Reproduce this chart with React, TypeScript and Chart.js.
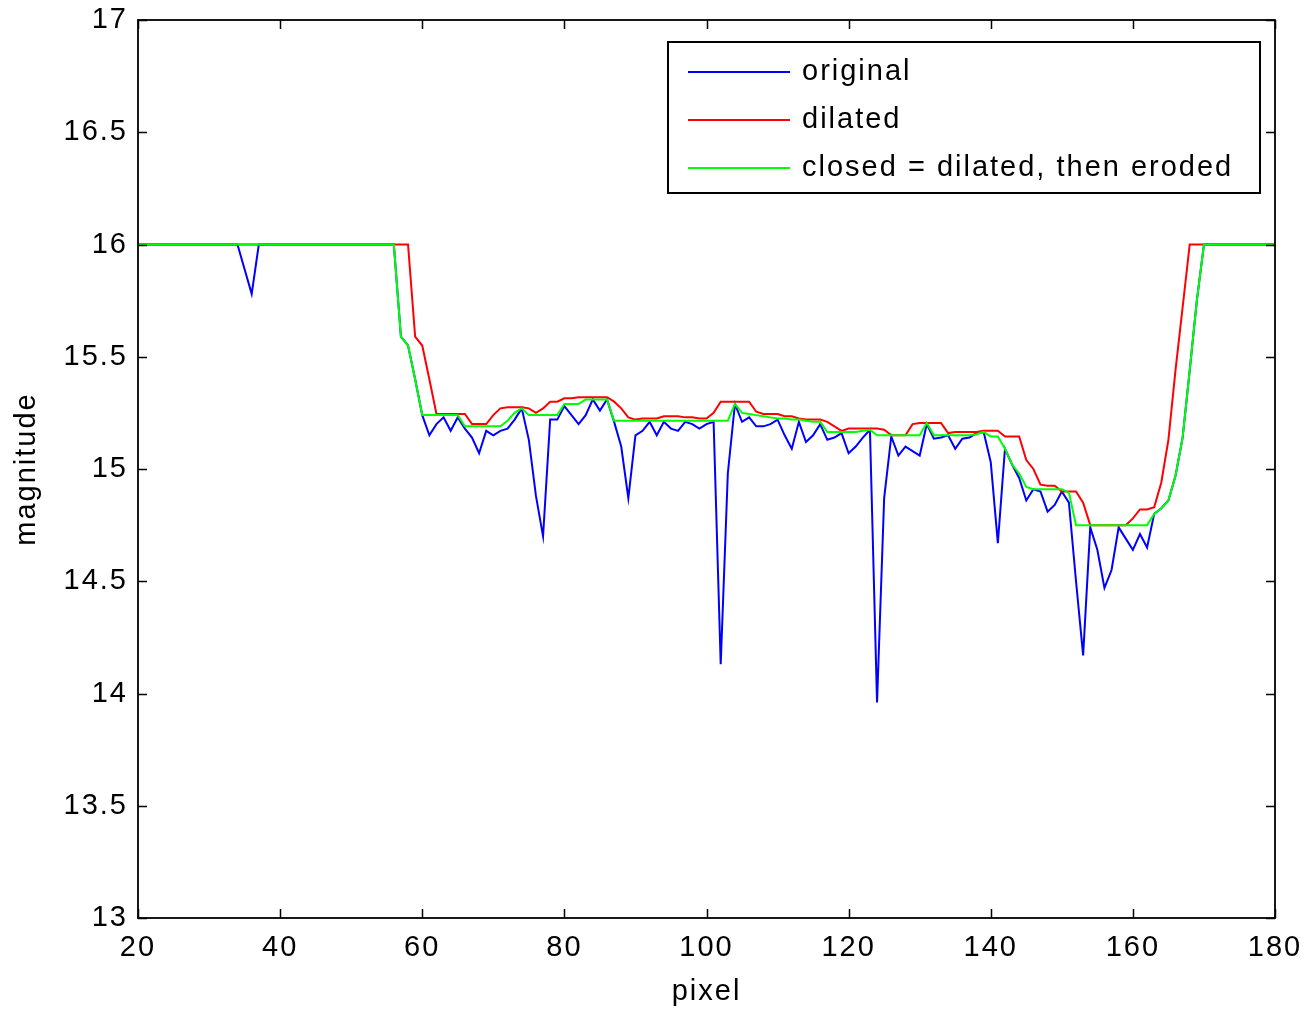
import React, { useEffect, useRef } from "react";
import { Chart, registerables } from "chart.js";

Chart.register(...registerables);

// pixel index (x axis categories)
const PIXELS: number[] = Array.from({ length: 161 }, (_, i) => 20 + i);

// original signal, x = 20..180
const ORIGINAL: number[] = [
  16, 16, 16, 16, 16, 16, 16, 16, 16, 16, // 20-29
  16, 16, 16, 16, 16, 15.89, 15.78, 16, 16, 16, // 30-39
  16, 16, 16, 16, 16, 16, 16, 16, 16, 16, // 40-49
  16, 16, 16, 16, 16, 16, 16, 15.59, 15.55, 15.4, // 50-59
  15.24, 15.15, 15.2, 15.23, 15.17, 15.23, 15.18, 15.14, 15.07, 15.17, // 60-69
  15.15, 15.17, 15.18, 15.22, 15.27, 15.13, 14.88, 14.7, 15.22, 15.22, // 70-79
  15.28, 15.24, 15.2, 15.24, 15.31, 15.26, 15.31, 15.21, 15.1, 14.87, // 80-89
  15.15, 15.17, 15.21, 15.15, 15.21, 15.18, 15.17, 15.21, 15.2, 15.18, // 90-99
  15.2, 15.21, 14.13, 14.98, 15.29, 15.21, 15.23, 15.19, 15.19, 15.2, // 100-109
  15.22, 15.15, 15.09, 15.21, 15.12, 15.15, 15.2, 15.13, 15.14, 15.16, // 110-119
  15.07, 15.1, 15.14, 15.175, 13.96, 14.87, 15.145, 15.06, 15.1, 15.08, // 120-129
  15.06, 15.2, 15.135, 15.14, 15.15, 15.09, 15.135, 15.14, 15.16, 15.165, // 130-139
  15.03, 14.67, 15.09, 15.02, 14.96, 14.86, 14.91, 14.9, 14.81, 14.84, // 140-149
  14.9, 14.85, 14.5, 14.17, 14.74, 14.64, 14.47, 14.55, 14.74, 14.69, // 150-159
  14.64, 14.71, 14.65, 14.8, 14.825, 14.86, 14.97, 15.14, 15.44, 15.75, // 160-169
  16, 16, 16, 16, 16, 16, 16, 16, 16, 16, // 170-179
  16, // 180
];

// dilated signal
const DILATED: number[] = [
  16, 16, 16, 16, 16, 16, 16, 16, 16, 16,
  16, 16, 16, 16, 16, 16, 16, 16, 16, 16,
  16, 16, 16, 16, 16, 16, 16, 16, 16, 16,
  16, 16, 16, 16, 16, 16, 16, 16, 16, 15.59,
  15.55, 15.4, 15.245, 15.245, 15.245, 15.245, 15.245, 15.2, 15.2, 15.2,
  15.24, 15.27, 15.275, 15.275, 15.275, 15.27, 15.25, 15.27, 15.3, 15.3,
  15.315, 15.315, 15.32, 15.32, 15.32, 15.32, 15.32, 15.3, 15.27, 15.23,
  15.22, 15.225, 15.225, 15.225, 15.235, 15.235, 15.235, 15.23, 15.23, 15.225,
  15.225, 15.25, 15.3, 15.3, 15.3, 15.3, 15.3, 15.255, 15.245, 15.245,
  15.245, 15.235, 15.235, 15.225, 15.22, 15.22, 15.22, 15.21, 15.19, 15.17,
  15.18, 15.18, 15.18, 15.18, 15.18, 15.175, 15.15, 15.15, 15.15, 15.2,
  15.205, 15.205, 15.205, 15.205, 15.16, 15.165, 15.165, 15.165, 15.165, 15.17,
  15.17, 15.17, 15.145, 15.145, 15.145, 15.04, 15.0, 14.93, 14.925, 14.925,
  14.9, 14.9, 14.9, 14.85, 14.75, 14.75, 14.75, 14.75, 14.75, 14.75,
  14.78, 14.82, 14.82, 14.83, 14.94, 15.13, 15.44, 15.72, 16, 16,
  16, 16, 16, 16, 16, 16, 16, 16, 16, 16,
  16,
];

// closed = dilated, then eroded
const CLOSED: number[] = [
  16, 16, 16, 16, 16, 16, 16, 16, 16, 16,
  16, 16, 16, 16, 16, 16, 16, 16, 16, 16,
  16, 16, 16, 16, 16, 16, 16, 16, 16, 16,
  16, 16, 16, 16, 16, 16, 16, 15.59, 15.55, 15.4,
  15.24, 15.24, 15.24, 15.24, 15.24, 15.24, 15.19, 15.19, 15.19, 15.19,
  15.19, 15.19, 15.215, 15.25, 15.27, 15.24, 15.24, 15.24, 15.24, 15.24,
  15.29, 15.29, 15.29, 15.31, 15.31, 15.31, 15.31, 15.215, 15.215, 15.215,
  15.215, 15.215, 15.215, 15.215, 15.215, 15.215, 15.215, 15.215, 15.215, 15.215,
  15.215, 15.215, 15.215, 15.215, 15.29, 15.25, 15.245, 15.24, 15.235, 15.23,
  15.225, 15.225, 15.22, 15.22, 15.215, 15.21, 15.21, 15.165, 15.165, 15.165,
  15.165, 15.165, 15.17, 15.175, 15.15, 15.15, 15.15, 15.15, 15.15, 15.15,
  15.15, 15.205, 15.15, 15.15, 15.15, 15.15, 15.15, 15.15, 15.155, 15.165,
  15.145, 15.145, 15.09, 15.02, 14.98, 14.92, 14.91, 14.91, 14.91, 14.91,
  14.91, 14.895, 14.75, 14.75, 14.75, 14.75, 14.75, 14.75, 14.75, 14.75,
  14.75, 14.75, 14.75, 14.8, 14.825, 14.86, 14.97, 15.14, 15.44, 15.75,
  16, 16, 16, 16, 16, 16, 16, 16, 16, 16,
  16,
];

const SERIES_LABELS = ["original", "dilated", "closed = dilated, then eroded"];
const SERIES_COLORS = ["#0000ff", "#ff0000", "#00ff00"];
const X_TICKS = [20, 40, 60, 80, 100, 120, 140, 160, 180];
const Y_TICKS = [13, 13.5, 14, 14.5, 15, 15.5, 16, 16.5, 17];
const X_TITLE = "pixel";
const Y_TITLE = "magnitude";

const FONT_FAMILY = '"Liberation Sans", Arial, Helvetica, sans-serif';
const FONT_SIZE = 29;
const LETTER_SPACING = "2px";

const spacingPlugin = {
  id: "spacing",
  beforeDraw(chart: any) {
    chart.ctx.letterSpacing = LETTER_SPACING;
  },
  afterDraw(chart: any) {
    chart.ctx.letterSpacing = "0px";
  },
};

const framePlugin = {
  id: "frame",
  afterDatasetsDraw(chart: any) {
    const { ctx, chartArea: a, scales } = chart;
    const tl = 9;
    ctx.save();
    ctx.strokeStyle = "#000";
    ctx.lineWidth = 1.5;
    ctx.beginPath();
    for (const v of X_TICKS) {
      const px = Math.round(scales.x.getPixelForValue(v)) + 0.5;
      ctx.moveTo(px, a.bottom);
      ctx.lineTo(px, a.bottom - tl);
      ctx.moveTo(px, a.top);
      ctx.lineTo(px, a.top + tl);
    }
    for (const v of Y_TICKS) {
      const py = Math.round(scales.y.getPixelForValue(v)) + 0.5;
      ctx.moveTo(a.left, py);
      ctx.lineTo(a.left + tl, py);
      ctx.moveTo(a.right, py);
      ctx.lineTo(a.right - tl, py);
    }
    ctx.stroke();
    ctx.lineWidth = 1.8;
    ctx.strokeRect(a.left, a.top, a.right - a.left, a.bottom - a.top);
    ctx.restore();
  },
};

const legendPlugin = {
  id: "matlabLegend",
  afterDraw(chart: any) {
    const { ctx, chartArea: a } = chart;
    const boxLeft = 668;
    const boxTop = 42;
    const boxRight = a.right - 15;
    const boxBottom = 193;
    ctx.save();
    ctx.fillStyle = "#fff";
    ctx.fillRect(boxLeft, boxTop, boxRight - boxLeft, boxBottom - boxTop);
    ctx.strokeStyle = "#000";
    ctx.lineWidth = 2;
    ctx.strokeRect(boxLeft, boxTop, boxRight - boxLeft, boxBottom - boxTop);
    ctx.font = `${FONT_SIZE}px ${FONT_FAMILY}`;
    ctx.letterSpacing = LETTER_SPACING;
    ctx.textBaseline = "middle";
    ctx.textAlign = "left";
    SERIES_LABELS.forEach((label, i) => {
      const y = 72 + i * 48;
      ctx.strokeStyle = SERIES_COLORS[i];
      ctx.lineWidth = 2;
      ctx.beginPath();
      ctx.moveTo(688, y);
      ctx.lineTo(790, y);
      ctx.stroke();
      ctx.fillStyle = "#000";
      ctx.fillText(label, 802, y);
    });
    ctx.restore();
  },
};

export default function App() {
  const canvasRef = useRef<HTMLCanvasElement | null>(null);

  useEffect(() => {
    const canvas = canvasRef.current;
    if (!canvas) return;
    const series = [ORIGINAL, DILATED, CLOSED];
    const datasets = series.map((vals, i) => ({
      label: SERIES_LABELS[i],
      data: vals.map((v, k) => ({ x: PIXELS[k], y: v })),
      borderColor: SERIES_COLORS[i],
      backgroundColor: SERIES_COLORS[i],
      borderWidth: 2,
      pointRadius: 0,
      tension: 0,
      fill: false,
      order: 2 - i,
    }));
    const font = { family: FONT_FAMILY, size: FONT_SIZE };
    const chart = new Chart(canvas, {
      type: "line",
      data: { datasets },
      options: {
        animation: false,
        responsive: false,
        devicePixelRatio: 1,
        layout: { padding: { top: 20, right: 35, left: 0, bottom: 0 } },
        plugins: {
          legend: { display: false },
          tooltip: { enabled: false },
        },
        scales: {
          x: {
            type: "linear",
            min: 20,
            max: 180,
            afterBuildTicks: (s: any) => {
              s.ticks = X_TICKS.map((v) => ({ value: v }));
            },
            afterFit: (s: any) => {
              s.height = 93;
              s.paddingLeft = 0;
              s.paddingRight = 0;
            },
            grid: { display: false, drawTicks: false },
            border: { display: false },
            ticks: {
              font,
              color: "#000",
              padding: 13,
              maxRotation: 0,
              autoSkip: false,
              callback: (v: any) => String(v),
            },
            title: {
              display: true,
              text: X_TITLE,
              font,
              color: "#000",
              padding: { top: 0, bottom: 2 },
            },
          },
          y: {
            type: "linear",
            min: 13,
            max: 17,
            afterBuildTicks: (s: any) => {
              s.ticks = Y_TICKS.map((v) => ({ value: v }));
            },
            afterFit: (s: any) => {
              s.width = 138;
              s.paddingTop = 0;
              s.paddingBottom = 0;
            },
            grid: { display: false, drawTicks: false },
            border: { display: false },
            ticks: {
              font,
              color: "#000",
              padding: 10,
              autoSkip: false,
              callback: (v: any) => String(v),
            },
            title: {
              display: true,
              text: Y_TITLE,
              font,
              color: "#000",
              padding: { top: 10, bottom: 0 },
            },
          },
        },
      },
      plugins: [spacingPlugin, framePlugin, legendPlugin],
    } as any);
    return () => chart.destroy();
  }, []);

  return (
    <div
      style={{
        position: "fixed",
        left: 0,
        top: 0,
        width: 1310,
        height: 1011,
        background: "#fff",
      }}
    >
      <canvas ref={canvasRef} width={1310} height={1011} style={{ display: "block" }} />
    </div>
  );
}
